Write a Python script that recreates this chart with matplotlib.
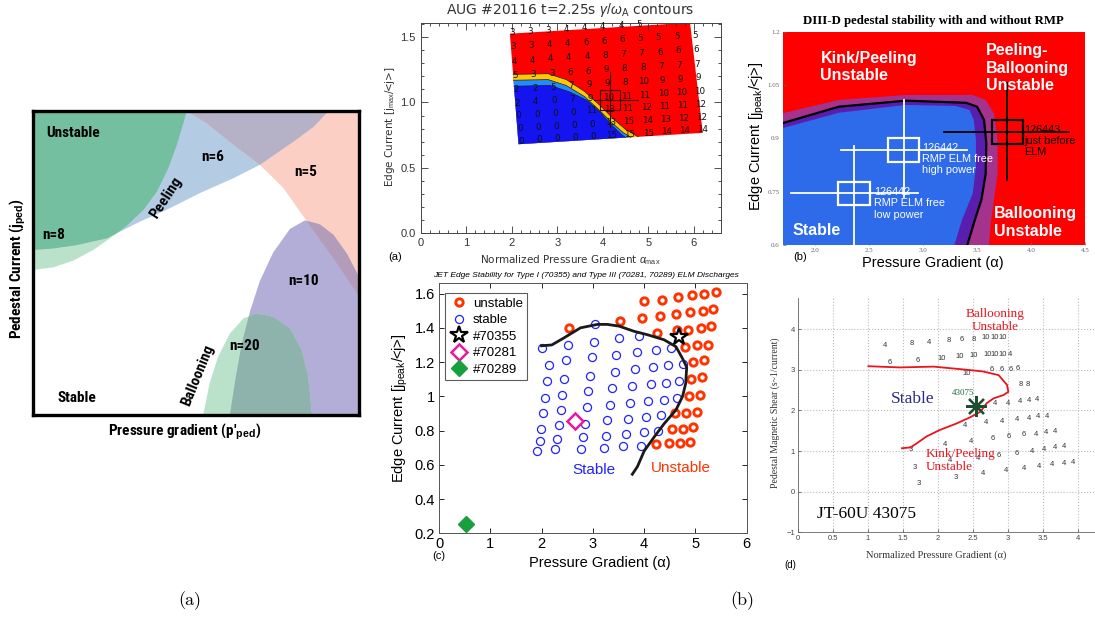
import matplotlib
matplotlib.use("Agg")
import matplotlib.pyplot as plt
from matplotlib.patches import Polygon, Rectangle
from matplotlib.path import Path
from matplotlib import font_manager

def pick(*names):
    avail = {f.name for f in font_manager.fontManager.ttflist}
    for n in names:
        if n in avail:
            return n
    return 'DejaVu Sans'

NARROW = pick('Liberation Sans Narrow', 'Roboto Condensed', 'DejaVu Sans')
SANS = pick('Liberation Sans', 'DejaVu Sans')
SERIF = pick('Liberation Serif', 'DejaVu Serif')
plt.rcParams['font.family'] = [SANS, 'DejaVu Sans']
plt.rcParams['mathtext.fontset'] = 'custom'
plt.rcParams['mathtext.rm'] = SANS
plt.rcParams['mathtext.it'] = SANS + ':italic'
plt.rcParams['mathtext.bf'] = SANS + ':bold'

# ---------------- data: panel (a) schematic regions (normalised) -------------
green8 = [(0, 1.02), (0.471, 1.02), (0.471, 1), (0.461, 0.959), (0.441, 0.888), (0.415, 0.812),
          (0.380, 0.735), (0.339, 0.675), (0.288, 0.623), (0.236, 0.581), (0.185, 0.543),
          (0.124, 0.508), (0.063, 0.486), (0, 0.477), (-0.02, 0.477), (-0.02, 1.02)]
blue6 = [(-0.02, 1.02), (0.906, 1.02), (0.906, 1), (0.862, 0.949), (0.799, 0.899), (0.696, 0.823),
         (0.615, 0.779), (0.512, 0.730), (0.410, 0.675), (0.328, 0.636), (0.226, 0.581),
         (0.134, 0.559), (0.063, 0.548), (0, 0.543), (-0.02, 0.543)]
salmon5 = [(0.471, 1.02), (0.471, 1), (0.533, 0.959), (0.615, 0.888), (0.696, 0.823), (0.768, 0.747),
           (0.819, 0.669), (0.870, 0.592), (0.922, 0.515), (0.963, 0.450), (1.0, 0.390),
           (1.03, 0.35), (1.03, 1.02)]
purple10 = [(0.600, -0.02), (0.604, 0.0), (0.620, 0.112), (0.640, 0.233), (0.666, 0.342),
            (0.696, 0.441), (0.737, 0.535), (0.788, 0.612), (0.834, 0.640), (0.880, 0.627),
            (0.922, 0.592), (0.963, 0.530), (1.0, 0.454), (1.03, 0.35), (1.03, -0.02)]
green20 = [(0.520, -0.02), (0.522, 0.0), (0.542, 0.105), (0.568, 0.192), (0.604, 0.268),
           (0.646, 0.318), (0.686, 0.334), (0.737, 0.323), (0.788, 0.285), (0.824, 0.215),
           (0.844, 0.127), (0.856, 0.0), (0.857, -0.02)]

# ---------------- data: AUG ----------------
aug_region = [(1.96, 1.526), (5.92, 1.61), (6.2, 0.768), (2.15, 0.681)]
aug_yellow = [(2.03, 1.215), (2.8, 1.22), (3.2, 1.175), (3.6, 1.085), (3.95, 0.975), (4.25, 0.87),
              (4.5, 0.795), (4.78, 0.738)]
aug_lblue = [(2.04, 1.17), (2.8, 1.175), (3.2, 1.13), (3.6, 1.045), (3.93, 0.94), (4.2, 0.845),
             (4.45, 0.77), (4.62, 0.734)]
aug_blue = [(2.05, 1.124), (2.84, 1.131), (3.28, 1.08), (3.65, 1.017), (3.94, 0.928), (4.16, 0.839),
            (4.39, 0.763), (4.50, 0.732)]
aug_alpha = [2.0, 2.4, 2.8, 3.2, 3.6, 4.0, 4.4, 4.8, 5.2, 5.6, 6.0]
aug_j = [1.535, 1.425, 1.315, 1.205, 1.10, 0.995, 0.90, 0.80, 0.705]
aug_gamma = [
    [3, 3, 3, 4, 4, 4, 4, 5, 5, 5, 5],
    [3, 3, 4, 4, 6, 6, 6, 5, 5, 5, 5],
    [4, 4, 4, 4, 4, 8, 7, 7, 6, 6, 6],
    [5, 3, 3, 6, 6, 9, 8, 8, 7, 7, 7],
    [2, 2, 5, 7, 9, 9, 8, 10, 9, 9, 9],
    [2, 4, 0, 7, 9, 10, 11, 11, 10, 10, 10],
    [0, 0, 0, 0, 11, 13, 11, 12, 11, 11, 12],
    [0, 0, 0, 0, 0, 13, 15, 14, 13, 12, 12],
    [0, 0, 0, 0, 0, 15, 15, 15, 14, 14, 14],
]
aug_point = (4.16, 1.02)
aug_err = (0.22, 0.076, 0.62, 0.21)  # box half-w, box half-h, bar half-x, bar half-y

# ---------------- data: DIII-D ----------------
d3_blue = [(1.65, 0.925), (1.69, 0.928), (2.22, 0.972), (2.84, 0.994), (3.30, 0.991), (3.43, 0.980),
           (3.47, 0.952), (3.49, 0.895), (3.49, 0.82), (3.46, 0.745), (3.36, 0.67), (3.29, 0.6),
           (3.27, 0.58)]
d3_purple = [(1.65, 0.938), (1.69, 0.942), (2.22, 0.989), (2.84, 1.006), (3.40, 1.0), (3.50, 0.989),
             (3.565, 0.952), (3.586, 0.886), (3.58, 0.80), (3.54, 0.727), (3.47, 0.661), (3.41, 0.6),
             (3.40, 0.58)]
d3_mag = [(1.65, 0.966), (1.69, 0.97), (2.22, 1.008), (2.84, 1.022), (3.457, 1.022), (3.58, 1.008),
          (3.657, 0.97), (3.69, 0.895), (3.69, 0.80), (3.657, 0.727), (3.627, 0.661), (3.61, 0.6),
          (3.61, 0.58)]
d3_shots = [  # alpha, j, dalpha box, dj box, xmin, xmax, ymin, ymax
    (2.82, 0.868, 0.145, 0.034, 2.24, 3.41, 0.736, 1.008),
    (2.36, 0.745, 0.145, 0.033, 1.775, 2.95, 0.58, 0.878),
    (3.78, 0.918, 0.145, 0.035, 3.19, 4.35, 0.783, 1.055),
]

# ---------------- data: JET ----------------
jet_stable_a = [3.05, 2.52, 2.01, 3.02, 3.51, 3.90, 2.48, 2.14, 2.98, 3.46, 3.86, 4.23, 4.53, 2.43, 2.11,
                2.94, 3.43, 3.82, 4.18, 4.47, 4.75, 2.40, 2.06, 2.91, 3.38, 3.77, 4.14, 4.42, 4.68, 2.37,
                2.03, 2.88, 3.33, 3.73, 4.08, 4.38, 4.64, 2.34, 1.99, 2.84, 3.28, 3.69, 4.04, 4.33, 2.30,
                1.96, 2.80, 3.25, 3.64, 3.99, 4.27, 2.26, 1.91, 2.76, 3.22, 3.59, 3.93]
jet_stable_j = [1.42, 1.30, 1.28, 1.32, 1.34, 1.35, 1.21, 1.18, 1.23, 1.24, 1.26, 1.27, 1.28, 1.10, 1.09,
                1.12, 1.14, 1.16, 1.17, 1.18, 1.19, 1.01, 0.99, 1.03, 1.05, 1.06, 1.07, 1.08, 1.09, 0.92,
                0.90, 0.94, 0.95, 0.96, 0.97, 0.98, 0.99, 0.83, 0.81, 0.84, 0.86, 0.87, 0.88, 0.89, 0.75,
                0.74, 0.76, 0.77, 0.78, 0.79, 0.80, 0.69, 0.68, 0.69, 0.70, 0.71, 0.71]
jet_unst_a = [2.54, 3.53, 3.99, 3.95, 4.34, 4.31, 4.26, 4.66, 4.62, 4.65, 4.85, 4.93, 4.89, 5.17, 5.14,
              5.10, 5.41, 5.35, 5.30, 4.80, 5.03, 5.24, 4.95, 5.17, 4.91, 5.13, 4.87, 5.09, 4.60, 4.81,
              5.03, 4.54, 4.76, 4.96, 4.23, 4.48, 4.70, 4.90]
jet_unst_j = [1.40, 1.44, 1.555, 1.46, 1.565, 1.47, 1.37, 1.58, 1.48, 1.39, 1.39, 1.59, 1.49, 1.60, 1.50,
              1.40, 1.61, 1.51, 1.41, 1.29, 1.30, 1.30, 1.20, 1.21, 1.10, 1.11, 1.00, 1.01, 0.90, 0.90,
              0.91, 0.81, 0.81, 0.82, 0.72, 0.725, 0.73, 0.735]
jet_bnd_a = [2.0, 2.2, 2.43, 2.76, 3.09, 3.28, 3.51, 3.80, 4.06, 4.39, 4.62, 4.75, 4.83, 4.81, 4.75,
             4.62, 4.39, 4.19, 4.00, 3.87, 3.77]
jet_bnd_j = [1.295, 1.30, 1.34, 1.40, 1.42, 1.42, 1.41, 1.38, 1.36, 1.33, 1.29, 1.22, 1.17, 1.075, 1.0,
             0.92, 0.84, 0.76, 0.68, 0.59, 0.545]
jet_70355 = (4.68, 1.345)
jet_70281 = (2.65, 0.855)
jet_70289 = (0.52, 0.255)

# ---------------- data: JT-60U ----------------
jt_num_a = [1.25, 1.63, 1.88, 2.16, 2.35, 2.51, 2.69, 2.81, 2.93,
            1.31, 1.71, 2.06, 2.31, 2.51, 2.71, 2.82, 2.93, 3.03,
            2.42, 2.77, 2.92, 3.04, 3.15, 3.18, 3.29,
            2.82, 3.01, 3.18, 3.31, 3.42,
            2.69, 2.92, 3.13, 3.31, 3.44, 3.56, 2.39,
            2.47, 2.78, 3.02, 3.23, 3.41, 3.55, 3.68,
            2.11, 1.62, 2.87, 3.13, 3.34, 3.52, 3.68, 3.81,
            2.18, 2.57, 1.67, 2.65, 2.98, 3.23, 3.45, 3.64, 3.80, 3.93,
            2.26, 1.73]
jt_num_s = [3.60, 3.64, 3.68, 3.72, 3.74, 3.75, 3.79, 3.79, 3.79,
            3.18, 3.24, 3.28, 3.33, 3.35, 3.39, 3.39, 3.39, 3.39,
            2.92, 3.00, 3.01, 3.02, 3.04, 2.63, 2.64,
            2.16, 2.18, 2.22, 2.24, 2.26,
            1.70, 1.72, 1.78, 1.81, 1.85, 1.86, 1.64,
            1.23, 1.31, 1.36, 1.40, 1.42, 1.45, 1.48,
            1.15, 1.03, 0.90, 0.94, 1.00, 1.04, 1.08, 1.11,
            0.76, 0.82, 0.60, 0.44, 0.52, 0.58, 0.63, 0.67, 0.70, 0.72,
            0.35, 0.21]
jt_num_txt = ['4', '8', '4', '8', '6', '8', '10', '10', '10',
              '6', '6', '10', '10', '10', '10', '10', '10', '4',
              '10', '6', '6', '6', '6', '8', '8',
              '4', '4', '4', '4', '4',
              '4', '4', '4', '4', '4', '4', '4',
              '4', '6', '6', '6', '4', '4', '4',
              '4', '3', '6', '6', '4', '4', '4', '4',
              '4', '4', '3', '4', '4', '4', '4', '4', '4', '4',
              '3', '3']
jt_bnd_a = [1.01, 1.46, 1.94, 2.37, 2.65, 2.87, 2.99, 3.01, 2.94, 2.80, 2.70, 2.61, 2.46, 2.27, 2.03,
            1.84, 1.70, 1.61, 1.49]
jt_bnd_s = [3.09, 3.06, 3.08, 3.01, 2.96, 2.87, 2.63, 2.46, 2.38, 2.30, 2.18, 1.97, 1.83, 1.68, 1.52,
            1.36, 1.19, 1.09, 1.07]
jt_shot = (2.55, 2.12)

# ================= figure =================
W, H = 1095, 617
fig = plt.figure(figsize=(W / 100, H / 100), dpi=100)


def add_ax(l, t, r, b):
    return fig.add_axes([l / W, 1 - b / H, (r - l) / W, (b - t) / H])


def fill(ax, pts, color, clip=None, z=1):
    p = Polygon(pts, closed=True, facecolor=color, edgecolor='none', zorder=z)
    ax.add_patch(p)
    if clip is not None:
        cp = Polygon(clip, closed=True, transform=ax.transData)
        p.set_clip_path(cp)
    return p


# ---------------- panel (a) ----------------
axA = add_ax(33, 111, 359, 415)
axA.set_xlim(0, 1)
axA.set_ylim(0, 1)
axA.set_xticks([])
axA.set_yticks([])
for s in axA.spines.values():
    s.set_linewidth(2.4)
    s.set_zorder(10)
fill(axA, green8, '#BAE2CA')
fill(axA, blue6, '#B3CCE4', z=2)
fill(axA, green8, '#73BF9F', clip=blue6, z=3)
fill(axA, salmon5, '#FBCFC3', z=2)
fill(axA, salmon5, '#B5B2C8', clip=blue6, z=3)
fill(axA, purple10, '#B2AED7', z=2)
fill(axA, purple10, '#B39BBA', clip=salmon5, z=3)
fill(axA, green20, '#BAE2CA', z=4)
fill(axA, green20, '#8EB3AD', clip=purple10, z=5)
tk = dict(family=[NARROW, 'DejaVu Sans'], fontweight='bold', fontsize=11, zorder=8)
axA.text(0.042, 0.927, 'Unstable', ha='left', va='center', **tk)
axA.text(0.552, 0.850, 'n=6', ha='center', va='center', **tk)
axA.text(0.837, 0.800, 'n=5', ha='center', va='center', **tk)
axA.text(0.407, 0.714, 'Peeling', ha='center', va='center', rotation=57, **tk)
axA.text(0.064, 0.592, 'n=8', ha='center', va='center', **tk)
axA.text(0.829, 0.442, 'n=10', ha='center', va='center', **tk)
axA.text(0.649, 0.228, 'n=20', ha='center', va='center', **tk)
axA.text(0.505, 0.132, 'Ballooning', ha='center', va='center', rotation=68, **tk)
axA.text(0.136, 0.055, 'Stable', ha='center', va='center', **tk)
axA.text(-0.047, 0.48, r'Pedestal Current (j$_{\bf ped}$)', rotation=90, ha='center', va='center',
         transform=axA.transAxes, family=[NARROW, 'DejaVu Sans'], fontweight='bold', fontsize=11)
axA.text(0.465, -0.055, r"Pressure gradient (p'$_{\bf ped}$)", ha='center', va='center',
         transform=axA.transAxes, family=[NARROW, 'DejaVu Sans'], fontweight='bold', fontsize=11)

# ---------------- panel AUG ----------------
axU = add_ax(420.7, 22.7, 721, 233.3)
axU.set_xlim(0, 6.6)
axU.set_ylim(0, 1.61)
bl = aug_region[3]
fill(axU, aug_region, '#FF0000', z=1)
fill(axU, aug_yellow + [bl], '#FFC800', z=2)
fill(axU, aug_lblue + [bl], '#1E8CFF', z=3)
fill(axU, aug_blue + [bl], '#1414F0', z=4)
for crv in (aug_yellow, aug_lblue, aug_blue):
    axU.plot([p[0] for p in crv], [p[1] for p in crv], color='#202020', lw=0.5, zorder=5)
reg_path = Path(aug_region)
cx = sum(p[0] for p in aug_region) / 4
cy = sum(p[1] for p in aug_region) / 4
for i, jr in enumerate(aug_j):
    for k, al in enumerate(aug_alpha):
        x = al + 0.2 * (aug_j[0] - jr) / 0.83
        y = jr + 0.022 * (al - 2.0)
        tx, ty = x + 0.04 * (cx - x), y + 0.04 * (cy - y)
        if reg_path.contains_point((tx, ty)) and y < 1.605:
            axU.text(x, y, str(aug_gamma[i][k]), fontsize=6.3, ha='center', va='center',
                     color='#111111', family='DejaVu Sans', zorder=6)
pa, pj = aug_point
bw, bh, ex, ey = aug_err
axU.add_patch(Rectangle((pa - bw, pj - bh), 2 * bw, 2 * bh, fill=False, ec='#3a0000', lw=0.8, zorder=7))
axU.plot([pa - 0.55 * ex, pa + ex], [pj, pj], color='#3a0000', lw=0.8, zorder=7)
axU.plot([pa, pa], [pj - ey, pj + ey], color='#3a0000', lw=0.8, zorder=7)
axU.set_xticks(range(0, 7))
axU.set_yticks([0.0, 0.5, 1.0, 1.5])
axU.set_yticklabels(['0.0', '0.5', '1.0', '1.5'])
axU.set_xticks([i * 0.2 for i in range(34)], minor=True)
axU.set_yticks([i * 0.1 for i in range(17)], minor=True)
axU.tick_params(which='both', direction='in', top=True, right=True, labelsize=8, colors='#333333',
                width=0.6)
axU.tick_params(which='major', length=5)
axU.tick_params(which='minor', length=2)
for s in axU.spines.values():
    s.set_linewidth(0.7)
    s.set_color('#444444')
axU.text(0.497, 1.062, r'AUG #20116 t=2.25s $\gamma/\omega_{\rm A}$ contours', transform=axU.transAxes,
         ha='center', va='center', fontsize=10, color='#333333', family='DejaVu Sans')
axU.text(-0.102, 0.506, r'Edge Current [j$_{\rm max}$/<j>]', rotation=90, transform=axU.transAxes,
         ha='center', va='center', fontsize=7.5, color='#333333', family='DejaVu Sans')
axU.text(0.497, -0.127, r'Normalized Pressure Gradient $\alpha_{\rm max}$', transform=axU.transAxes,
         ha='center', va='center', fontsize=7.5, color='#333333', family='DejaVu Sans')
fig.text(395 / W, 1 - 257 / H, '(a)', ha='center', va='center', fontsize=8)

# ---------------- panel DIII-D ----------------
axD = add_ax(782.7, 31.7, 1085, 245)
axD.set_xlim(1.7, 4.5)
axD.set_ylim(0.6, 1.2)
axD.set_facecolor('#FF0000')
fill(axD, d3_mag + [(1.6, 0.55), (1.6, d3_mag[0][1])], '#A4338E', z=1)
fill(axD, d3_purple + [(1.6, 0.55), (1.6, d3_purple[0][1])], '#5A1EAE', z=2)
fill(axD, d3_blue + [(1.6, 0.55), (1.6, d3_blue[0][1])], '#2D6BEA', z=3)
axD.plot([p[0] for p in d3_purple], [p[1] for p in d3_purple], color='black', lw=1.6, zorder=4)
for n, (a0, j0, dw, dh, x0, x1, y0, y1) in enumerate(d3_shots):
    c = 'white' if n < 2 else 'black'
    axD.add_patch(Rectangle((a0 - dw, j0 - dh), 2 * dw, 2 * dh, fill=False, ec=c, lw=1.6, zorder=6))
    axD.plot([x0, x1], [j0, j0], color=c, lw=1.3, zorder=6)
    axD.plot([a0, a0], [y0, y1], color=c, lw=1.3, zorder=6)
bk = dict(color='white', fontweight='bold', fontsize=11.5, ha='left', va='center', linespacing=1.2,
          zorder=8)
axD.text(2.05, 1.101, 'Kink/Peeling\nUnstable', **bk)
axD.text(3.586, 1.097, 'Peeling-\nBallooning\nUnstable', **bk)
axD.text(3.657, 0.663, 'Ballooning\nUnstable', **bk)
axD.text(1.79, 0.642, 'Stable', **bk)
sk = dict(fontsize=7.8, ha='left', va='center', linespacing=1.15, zorder=8)
axD.text(2.994, 0.842, '126442\nRMP ELM free\nhigh power', color='white', **sk)
axD.text(2.546, 0.717, '126442\nRMP ELM free\nlow power', color='white', **sk)
axD.text(3.935, 0.893, '126443\njust before\nELM', color='black', **sk)
axD.set_xticks([2.0, 2.5, 3.0, 3.5, 4.0, 4.5])
axD.set_xticklabels(['2.0', '2.5', '3.0', '3.5', '4.0', '4.5'])
axD.set_yticks([0.6, 0.75, 0.9, 1.05, 1.2])
axD.set_yticklabels(['0.6', '0.75', '0.9', '1.05', '1.2'])
axD.tick_params(direction='in', length=2, width=0.5, labelsize=5, colors='#666666', pad=2)
for lab in axD.get_xticklabels() + axD.get_yticklabels():
    lab.set_family(SERIF)
for s in axD.spines.values():
    s.set_visible(False)
axD.text(0.497, 1.048, 'DIII-D pedestal stability with and without RMP', transform=axD.transAxes,
         ha='center', va='center', fontsize=9.2, fontweight='bold', family=SERIF)
axD.text(-0.085, 0.508, r'Edge Current [j$_{\rm peak}$/<j>]', rotation=90, transform=axD.transAxes,
         ha='center', va='center', fontsize=10.5)
axD.text(0.497, -0.084, 'Pressure Gradient (α)', transform=axD.transAxes, ha='center', va='center',
         fontsize=10.5)
fig.text(800 / W, 1 - 257 / H, '(b)', ha='center', va='center', fontsize=8)

# ---------------- panel JET ----------------
axJ = add_ax(439, 283.3, 746.7, 533.3)
axJ.set_xlim(0, 6)
axJ.set_ylim(0.2, 1.66)
axJ.plot(jet_unst_a, jet_unst_j, 'o', ls='none', ms=5.3, mfc='none', mec='#FF3300', mew=2.1,
         label='unstable', zorder=3)
axJ.plot(jet_stable_a, jet_stable_j, 'o', ls='none', ms=5.8, mfc='none', mec='#2222FF', mew=0.9,
         label='stable', zorder=3)
axJ.plot(jet_bnd_a, jet_bnd_j, color='#1a1a1a', lw=2.0, zorder=4)
axJ.plot([jet_70355[0]], [jet_70355[1]], '*', ls='none', ms=13, mfc='white', mec='black', mew=1.6,
         label='#70355', zorder=5)
axJ.plot([jet_70281[0]], [jet_70281[1]], 'D', ls='none', ms=8, mfc='white', mec='#E8199E', mew=1.8,
         label='#70281', zorder=5)
axJ.plot([jet_70289[0]], [jet_70289[1]], 'D', ls='none', ms=8.5, mfc='#17A03C', mec='#17A03C',
         label='#70289', zorder=5)
leg = axJ.legend(loc='upper left', bbox_to_anchor=(0.0195, 0.961), borderaxespad=0, fontsize=9.5,
                 frameon=True, fancybox=False, edgecolor='#333333', labelspacing=0.32,
                 handletextpad=0.35, handlelength=1.4, borderpad=0.35, numpoints=1)
leg.get_frame().set_linewidth(0.8)
axJ.text(3.02, 0.57, 'Stable', color='#2222FF', fontsize=11, ha='center', va='center')
axJ.text(4.72, 0.58, 'Unstable', color='#FF3300', fontsize=11, ha='center', va='center')
axJ.set_xticks(range(0, 7))
axJ.set_yticks([0.2, 0.4, 0.6, 0.8, 1.0, 1.2, 1.4, 1.6])
axJ.set_yticklabels(['0.2', '0.4', '0.6', '0.8', '1', '1.2', '1.4', '1.6'])
axJ.tick_params(direction='in', top=True, right=True, length=3.5, width=0.6, labelsize=10.5, pad=3)
for s in axJ.spines.values():
    s.set_linewidth(0.7)
    s.set_color('#555555')
axJ.text(0.478, 1.016, 'JET Edge Stability for Type I (70355) and Type III (70281, 70289) ELM Discharges',
         transform=axJ.transAxes, ha='center', va='bottom', fontsize=6, style='italic')
axJ.text(-0.127, 0.50, r'Edge Current [j$_{\rm peak}$/<j>]', rotation=90, transform=axJ.transAxes,
         ha='center', va='center', fontsize=10.5)
axJ.text(0.523, -0.119, 'Pressure Gradient (α)', transform=axJ.transAxes, ha='center', va='center',
         fontsize=10.5)
fig.text(439 / W, 1 - 556 / H, '(c)', ha='center', va='center', fontsize=8)

# ---------------- panel JT-60U ----------------
axT = add_ax(797.7, 298.4, 1112.7, 532.3)
axT.set_xlim(0, 4.5)
axT.set_ylim(-1, 4.76)
axT.set_xticks([i * 0.5 for i in range(10)])
axT.set_xticklabels(['0', '0.5', '1', '1.5', '2', '2.5', '3', '3.5', '4', ''])
axT.set_yticks([-1, 0, 1, 2, 3, 4])
axT.grid(True, ls=':', color='#BBBBBB', lw=0.8)
axT.tick_params(direction='in', length=2.5, width=0.5, labelsize=5.5, colors='#444444', pad=2)
axT.spines['top'].set_visible(False)
axT.spines['right'].set_visible(False)
for s in ('left', 'bottom'):
    axT.spines[s].set_linewidth(0.6)
    axT.spines[s].set_color('#666666')
for a, s, t in zip(jt_num_a, jt_num_s, jt_num_txt):
    axT.text(a, s, t, fontsize=5.5, ha='center', va='center', color='#333333')
axT.plot(jt_bnd_a, jt_bnd_s, color='#E8141E', lw=1.3, zorder=4)
axT.plot([jt_shot[0]], [jt_shot[1]], marker=(8, 2, 0), ms=15, mew=1.6, color='#1E4D30', zorder=5)
axT.plot([jt_shot[0]], [jt_shot[1]], 'o', ms=3.5, color='#1E4D30', zorder=5)
axT.text(2.37, 2.42, '43075', fontsize=6.5, color='#1E6A40', ha='center', va='center', family=SERIF)
axT.text(1.643, 2.274, 'Stable', fontsize=12.5, color='#2A2A80', ha='center', va='center', family=SERIF)
axT.text(2.819, 4.22, 'Ballooning\nUnstable', fontsize=9.5, color='#E8141E', ha='center', va='center',
         family=SERIF, linespacing=1.1)
axT.text(1.833, 0.76, 'Kink/Peeling\nUnstable', fontsize=9.5, color='#E8141E', ha='left', va='center',
         family=SERIF, linespacing=1.1)
axT.text(0.27, -0.55, 'JT-60U 43075', fontsize=12.5, color='black', ha='left', va='center', family=SERIF)
axT.text(-0.072, 0.51, 'Pedestal Magnetic Shear (s~1/current)', rotation=90, transform=axT.transAxes,
         ha='center', va='center', fontsize=7, family=SERIF, color='#333333')
axT.text(0.441, -0.097, 'Normalized Pressure Gradient (α)', transform=axT.transAxes, ha='center',
         va='center', fontsize=7.5, family=SERIF, color='#333333')
fig.text(790 / W, 1 - 565 / H, '(d)', ha='center', va='center', fontsize=7)

# ---------------- bottom captions ----------------
fig.text(190 / W, 1 - 601 / H, '(a)', ha='center', va='center', fontsize=13, family='cmr10')
fig.text(742 / W, 1 - 601 / H, '(b)', ha='center', va='center', fontsize=13, family='cmr10')

fig.savefig('out.png', dpi=100)
